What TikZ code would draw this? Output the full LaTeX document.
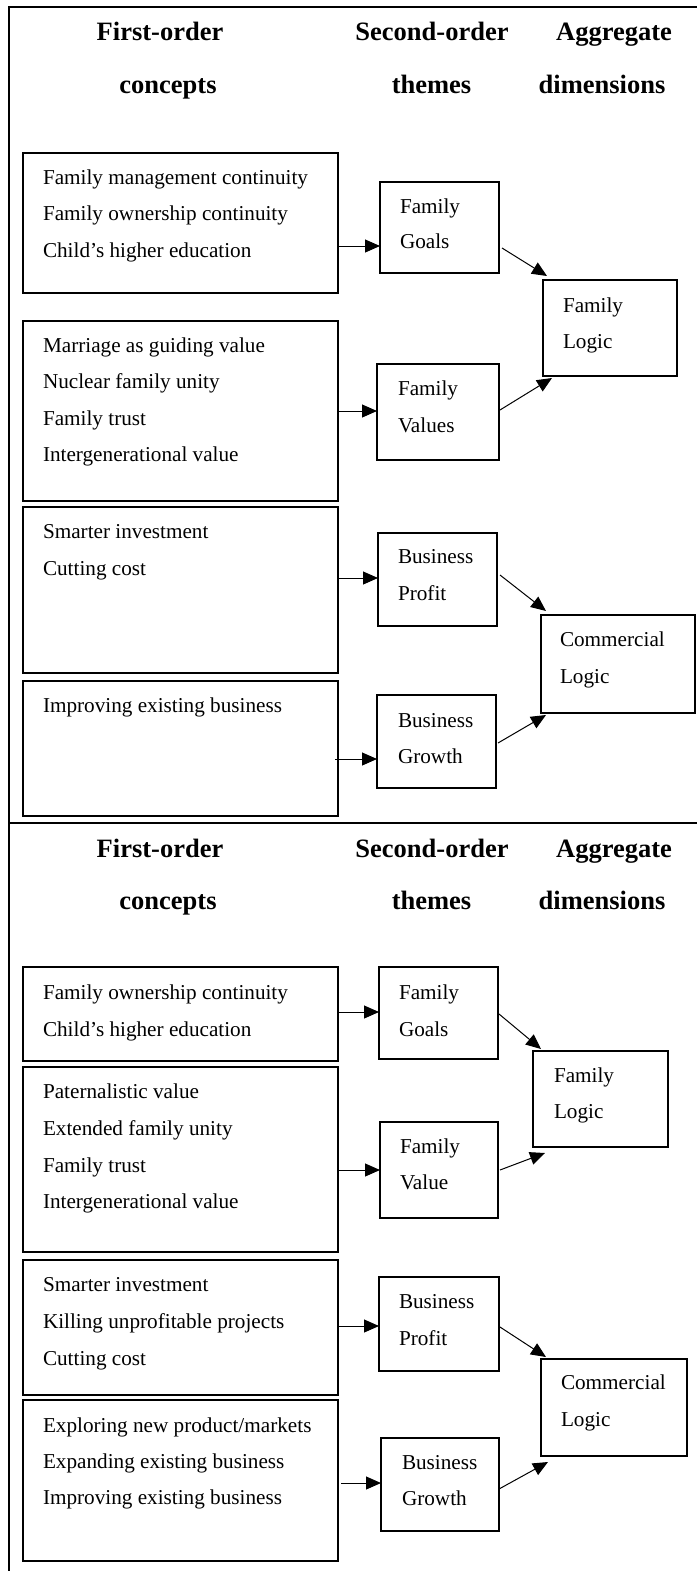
\documentclass[tikz,border=0pt]{standalone}
\usepackage{fontspec}
\setmainfont{Liberation Serif}
\usetikzlibrary{arrows.meta,calc}
\tikzset{
  box/.style={draw, line width=1.2pt, anchor=north west, inner sep=0pt, outer sep=0pt},
  txt/.style={anchor=base west, inner sep=0pt, outer sep=0pt, font=\fontsize{21.2pt}{25pt}\selectfont},
  hdr/.style={anchor=base, inner sep=0pt, outer sep=0pt, font=\fontsize{26.5pt}{30pt}\selectfont\bfseries},
  arr/.style={line width=1pt, -{Triangle[length=15pt,width=13pt]}},
  frame/.style={line width=2.5pt}
}
\newcommand{\bx}[5]{\node[box, minimum width={(#4-#2)*1pt}, minimum height={(#5-#3)*1pt}] (#1) at (#2,#3) {};}
\begin{document}
\begin{tikzpicture}[x=1pt,y=-1pt]
\useasboundingbox (0,0) rectangle (696,1571);
% frame
\coordinate (ftl) at (9,7);
\coordinate (ftr) at (697,7);
\coordinate (fbl) at (9,1572);
\coordinate (fdl) at (9,823);
\coordinate (fdr) at (697,823);
\draw[frame] (fbl) -- (ftl) -- (ftr);
\draw[frame] (fdl) -- (fdr);

% ===== upper panel =====
\node[hdr] (uh1) at (160,41) {First-order};
\node[hdr] (uh2) at (168,93) {concepts};
\node[hdr] (uh3) at (432,41) {Second-order};
\node[hdr] (uh4) at (431.5,93) {themes};
\node[hdr] (uh5) at (614,41) {Aggregate};
\node[hdr] (uh6) at (602,93) {dimensions};

\bx{ua1}{23}{153}{338}{293}
\bx{ua2}{23}{321}{338}{501}
\bx{ua3}{23}{507}{338}{673}
\bx{ua4}{23}{681}{338}{816}
\bx{ub1}{380}{182}{499}{273}
\bx{ub2}{377}{364}{499}{460}
\bx{ub3}{378}{533}{497}{626}
\bx{ub4}{377}{695}{496}{788}
\bx{uc1}{543}{280}{677}{376}
\bx{uc2}{541}{615}{695}{713}

\node[txt] (ut1) at (43,184) {Family management continuity};
\node[txt] (ut2) at (43,220.5) {Family ownership continuity};
\node[txt] (ut3) at (43,257) {Child’s higher education};
\node[txt] (ut4) at (43,352) {Marriage as guiding value};
\node[txt] (ut5) at (43,388) {Nuclear family unity};
\node[txt] (ut6) at (43,425) {Family trust};
\node[txt] (ut7) at (43,461) {Intergenerational value};
\node[txt] (ut8) at (43,538) {Smarter investment};
\node[txt] (ut9) at (43,575) {Cutting cost};
\node[txt] (ut10) at (43,712) {Improving existing business};

\node[txt] (us1) at (400,213) {Family};
\node[txt] (us2) at (400,248) {Goals};
\node[txt] (us3) at (398,395) {Family};
\node[txt] (us4) at (398,432) {Values};
\node[txt] (us5) at (398,563) {Business};
\node[txt] (us6) at (398,600) {Profit};
\node[txt] (us7) at (398,727) {Business};
\node[txt] (us8) at (398,763) {Growth};
\node[txt] (uu1) at (563,312) {Family};
\node[txt] (uu2) at (563,348) {Logic};
\node[txt] (uu3) at (560,646) {Commercial};
\node[txt] (uu4) at (560,683) {Logic};

\draw[arr] (ua1.east |- 0,246) -- (ub1.west |- 0,246);
\draw[arr] (ua2.east |- 0,411) -- (ub2.west |- 0,411);
\draw[arr] (ua3.east |- 0,578) -- (ub3.west |- 0,578);
\draw[arr] ($(ua4.east |- 0,759)+(-3,0)$) -- (ub4.west |- 0,759);
\draw[arr] ($(ub1.east |- 0,248)+(3,0)$) -- ($(uc1.north west)+(4,-4)$);
\draw[arr] ($(ub2.east |- 0,410)+(1,0)$) -- ($(uc1.south west)+(9,2)$);
\draw[arr] ($(ub3.east |- 0,575)+(3,0)$) -- ($(uc2.north west)+(5,-4)$);
\draw[arr] ($(ub4.east |- 0,743)+(2,0)$) -- ($(uc2.south west)+(5,2)$);

% ===== lower panel =====
\node[hdr] (lh1) at (160,857) {First-order};
\node[hdr] (lh2) at (168,909) {concepts};
\node[hdr] (lh3) at (432,857) {Second-order};
\node[hdr] (lh4) at (431.5,909) {themes};
\node[hdr] (lh5) at (614,857) {Aggregate};
\node[hdr] (lh6) at (602,909) {dimensions};

\bx{la1}{23}{967}{338}{1061}
\bx{la2}{23}{1067}{338}{1252}
\bx{la3}{23}{1260}{338}{1395}
\bx{la4}{23}{1400}{338}{1561}
\bx{lb1}{379}{967}{498}{1059}
\bx{lb2}{380}{1122}{498}{1218}
\bx{lb3}{379}{1277}{499}{1371}
\bx{lb4}{381}{1438}{499}{1531}
\bx{lc1}{533}{1051}{668}{1147}
\bx{lc2}{541}{1359}{687}{1456}

\node[txt] (lt1) at (43,999) {Family ownership continuity};
\node[txt] (lt2) at (43,1036) {Child’s higher education};
\node[txt] (lt3) at (43,1098) {Paternalistic value};
\node[txt] (lt4) at (43,1135) {Extended family unity};
\node[txt] (lt5) at (43,1172) {Family trust};
\node[txt] (lt6) at (43,1208) {Intergenerational value};
\node[txt] (lt7) at (43,1291) {Smarter investment};
\node[txt] (lt8) at (43,1328) {Killing unprofitable projects};
\node[txt] (lt9) at (43,1365) {Cutting cost};
\node[txt] (lt10) at (43,1432) {Exploring new product/markets};
\node[txt] (lt11) at (43,1468) {Expanding existing business};
\node[txt] (lt12) at (43,1504) {Improving existing business};

\node[txt] (ls1) at (399,999) {Family};
\node[txt] (ls2) at (399,1036) {Goals};
\node[txt] (ls3) at (400,1153) {Family};
\node[txt] (ls4) at (400,1189) {Value};
\node[txt] (ls5) at (399,1308) {Business};
\node[txt] (ls6) at (399,1345) {Profit};
\node[txt] (ls7) at (402,1469) {Business};
\node[txt] (ls8) at (402,1505) {Growth};
\node[txt] (lu1) at (554,1082) {Family};
\node[txt] (lu2) at (554,1118) {Logic};
\node[txt] (lu3) at (561,1389) {Commercial};
\node[txt] (lu4) at (561,1426) {Logic};

\draw[arr] (la1.east |- 0,1012) -- (lb1.west |- 0,1012);
\draw[arr] (la2.east |- 0,1170) -- (lb2.west |- 0,1170);
\draw[arr] (la3.east |- 0,1326) -- (lb3.west |- 0,1326);
\draw[arr] ($(la4.east |- 0,1483)+(3,0)$) -- (lb4.west |- 0,1483);
\draw[arr] ($(lb1.east |- 0,1014)+(1,0)$) -- ($(lc1.north west)+(8,-2)$);
\draw[arr] ($(lb2.east |- 0,1170)+(2,0)$) -- ($(lc1.south west)+(12,6)$);
\draw[arr] ($(lb3.east |- 0,1327)+(1,0)$) -- ($(lc2.north west)+(5,-2)$);
\draw[arr] ($(lb4.east |- 0,1489)+(0,0)$) -- ($(lc2.south west)+(7,6)$);
\end{tikzpicture}
\end{document}
